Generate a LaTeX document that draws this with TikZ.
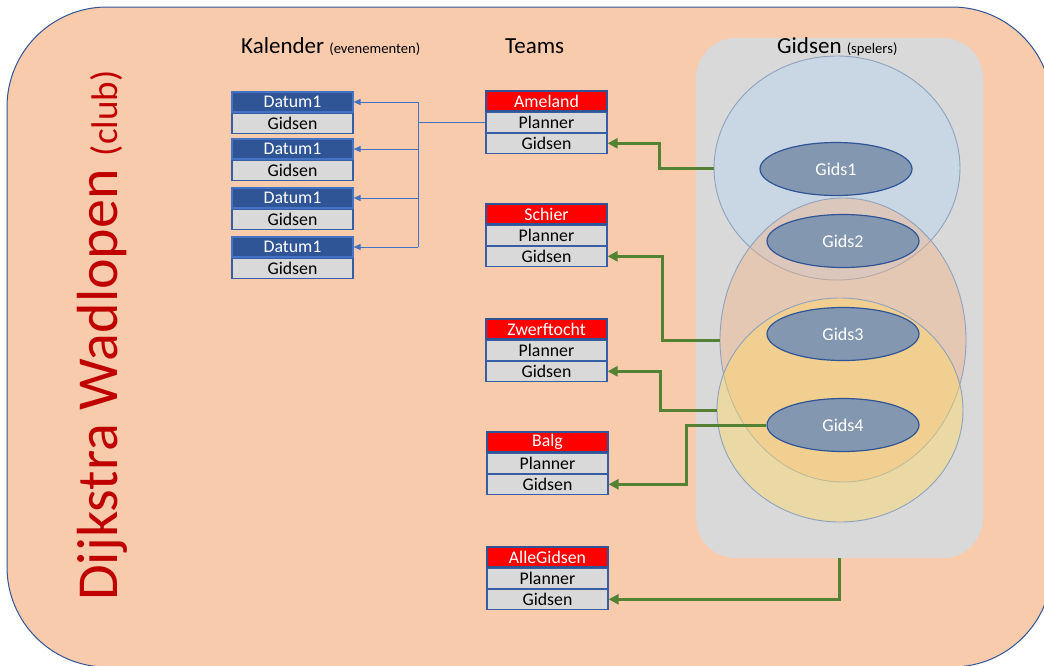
\documentclass[tikz,border=0pt]{standalone}
\usepackage{fontspec}
\setmainfont{Carlito}
\usetikzlibrary{shapes.geometric,arrows.meta}
\definecolor{peach}{HTML}{F8CBAD}
\definecolor{dkblue}{HTML}{2F5597}
\definecolor{midblue}{HTML}{4472C4}
\definecolor{lgrey}{HTML}{D9D9D9}
\definecolor{gline}{HTML}{548235}
\definecolor{titlered}{HTML}{C00000}
\definecolor{gidsfill}{HTML}{8497B0}
\definecolor{circline}{HTML}{8EA2BE}
\definecolor{setblue}{HTML}{BDD7EE}
\definecolor{setpink}{HTML}{F4B183}
\definecolor{setyel}{HTML}{FFD966}
\begin{document}
\begin{tikzpicture}[x=1pt,y=-1pt,
 cell/.style={rectangle, minimum width=121pt, minimum height=20pt, inner sep=0pt, line width=1.15pt, font=\fontsize{17.8}{18}\selectfont},
 dhead/.style={cell, fill=dkblue, draw=midblue, text=white},
 thead/.style={cell, fill=red, draw=dkblue, text=white},
 rowcell/.style={cell, fill=lgrey, draw=dkblue!70!midblue, text=black},
 gids/.style={ellipse, fill=gidsfill, draw=dkblue, line width=1.2pt, minimum width=152pt, minimum height=53pt, inner sep=0pt, text=white, font=\fontsize{18}{18}\selectfont},
 setc/.style={ellipse, draw=circline, line width=0.9pt, minimum width=246pt, inner sep=0pt},
 gconn/.style={draw=gline, line width=3pt, -{Triangle[length=10pt,width=10pt]}},
 bconn/.style={draw=midblue, line width=1pt},
 ttl/.style={anchor=base west, inner sep=0pt, font=\fontsize{23}{23}\selectfont, text=black},
]
\useasboundingbox (0,0) rectangle (1044,665);
\begin{scope}
\clip (0,0) rectangle (1044,665);
\draw[fill=peach, draw=dkblue, line width=1pt, rounded corners=100pt] (7,7) rectangle (1052,667);
\end{scope}

% title
\node[rotate=90, anchor=base west, inner sep=0pt, text=titlered] (club) at (117,601)
 {\fontsize{58}{58}\selectfont Dijkstra Wadlopen {\fontsize{37}{37}\selectfont (club)}};

% headings
\node[ttl] (kal) at (241,53) {Kalender {\fontsize{14.6}{15}\selectfont (evenementen)}};
\node[ttl] (teams) at (505,53) {Teams};

% grey group box
\node[fill=lgrey, rounded corners=40pt, minimum width=287pt, minimum height=520pt, inner sep=0pt] (gbox) at (839.5,298) {};
\node[ttl] (gidsT) at (777,53) {Gidsen {\fontsize{14.6}{15}\selectfont (spelers)}};

% sets
\node[setc, fill=setblue, fill opacity=0.55, minimum height=224pt] (cBlue) at (837,168) {};
\node[setc, fill=setpink, fill opacity=0.42, minimum height=284pt] (cPink) at (843,340) {};
\node[setc, fill=setyel, fill opacity=0.45, minimum height=224pt] (cYel) at (840,410) {};

% guides
\node[gids] (g1) at (836,169) {Gids1};
\node[gids] (g2) at (843,241) {Gids2};
\node[gids] (g3) at (843,334) {Gids3};
\node[gids] (g4) at (843,425) {Gids4};

% calendar boxes
\foreach \i/\y in {1/102,2/149,3/198,4/247} {
  \node[dhead] (d\i) at (292.5,\y) {Datum1};
  \node[rowcell, anchor=north] (d\i-g) at (d\i.south) {Gidsen};
}

% team boxes
\foreach \n/\t/\y/\x in {A/Ameland/101/546.5, S/Schier/214/546.5, Z/Zwerftocht/329/546.5, B/Balg/442/547.5, G/AlleGidsen/557/547.5} {
  \node[thead] (t\n) at (\x,\y) {\t};
  \node[rowcell, anchor=north] (t\n-p) at (t\n.south) {Planner};
  \node[rowcell, anchor=north] (t\n-g) at (t\n-p.south) {Gidsen};
}

% blue connectors
\draw[bconn] (tA-p.west) -- ++(-67,0) coordinate (bj);
\draw[bconn] (bj |- d1.east) -- (bj |- d4.east);
\foreach \i in {1,...,4}
  \draw[bconn, -{Triangle[length=7pt,width=6pt]}] (bj |- d\i.east) -- (d\i.east);

% green connectors
\draw[gconn] (cBlue.west) -- ++(-54,0) |- (tA-g.east);
\draw[gconn] (cPink.west) -- ++(-57,0) |- (tS-g.east);
\draw[gconn] (cYel.west) -- ++(-56,0) |- (tZ-g.east);
\draw[gconn] (g4.west) -- ++(-80,0) |- (tB-g.east);
\draw[gconn] (gbox.south) |- (tG-g.east);
\end{tikzpicture}
\end{document}
